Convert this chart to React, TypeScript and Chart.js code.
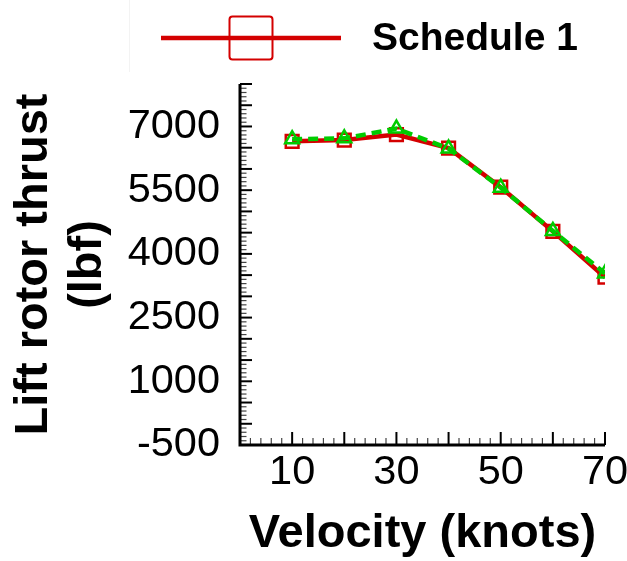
import { useEffect, useRef } from 'react';
import { Chart, registerables } from 'chart.js';

Chart.register(...registerables);

// Flight speed (knots) and lift rotor thrust (lbf) for each schedule
const velocity = [10, 20, 30, 40, 50, 60, 70];
const schedule1Thrust = [6650, 6680, 6810, 6490, 5570, 4530, 3450];
const schedule2Thrust = [6700, 6720, 6950, 6480, 5560, 4540, 3540];

// Values that carry a printed tick label
const xLabelValues = [10, 30, 50, 70];
const yLabelValues = [-500, 1000, 2500, 4000, 5500, 7000];

const RED = '#d40000';
const GREEN = '#00cc00';
const FONT = '"Liberation Sans", Arial, sans-serif';

// Axis lines plus major/minor tick marks pointing into the plot area
const axisFramePlugin = {
  id: 'axisFrame',
  afterDraw(chart: any) {
    const { ctx, chartArea, scales } = chart;
    const { left, right, top, bottom } = chartArea;
    const xs = scales.x;
    const ys = scales.y;
    ctx.save();
    ctx.strokeStyle = '#000';
    ctx.lineCap = 'butt';

    for (let v = xs.min; v <= xs.max + 1e-9; v += 2) {
      const px = xs.getPixelForValue(v);
      const major = Math.abs(v % 10) < 1e-9;
      ctx.lineWidth = major ? 2 : 1.2;
      ctx.strokeStyle = major ? '#000' : '#444';
      ctx.beginPath();
      ctx.moveTo(px, bottom);
      ctx.lineTo(px, bottom - (major ? 13 : 7));
      ctx.stroke();
    }
    for (let v = ys.min; v <= ys.max + 1e-9; v += 100) {
      const py = ys.getPixelForValue(v);
      const major = Math.abs(v % 500) < 1e-9;
      ctx.lineWidth = major ? 2 : 1.2;
      ctx.strokeStyle = major ? '#000' : '#444';
      ctx.beginPath();
      ctx.moveTo(left, py);
      ctx.lineTo(left + (major ? 12 : 6.5), py);
      ctx.stroke();
    }

    ctx.strokeStyle = '#000';
    ctx.lineWidth = 3;
    ctx.beginPath();
    ctx.moveTo(left, top);
    ctx.lineTo(left, bottom + 1.5);
    ctx.moveTo(left - 1.5, bottom);
    ctx.lineTo(right, bottom);
    ctx.stroke();
    ctx.restore();
  },
};

// Legend entry: line sample with its marker, then the series name
const lineLegendPlugin = {
  id: 'lineLegend',
  afterDraw(chart: any) {
    const { ctx } = chart;
    const ds = chart.data.datasets.find((d: any) => d.label === 'Schedule 1');
    if (!ds) return;
    const x0 = 161;
    const len = 180;
    const cy = 38;
    const box = 43;
    ctx.save();
    // thin frame edge at the left of the legend box
    ctx.strokeStyle = '#f3f3f3';
    ctx.lineWidth = 1;
    ctx.beginPath();
    ctx.moveTo(129.5, 0);
    ctx.lineTo(129.5, 72);
    ctx.stroke();

    ctx.strokeStyle = ds.borderColor;
    ctx.lineWidth = ds.borderWidth;
    ctx.beginPath();
    ctx.moveTo(x0, cy);
    ctx.lineTo(x0 + len, cy);
    ctx.stroke();

    ctx.lineWidth = 2;
    ctx.beginPath();
    const cx = x0 + len / 2;
    if ((ctx as any).roundRect) {
      (ctx as any).roundRect(cx - box / 2, cy - box / 2, box, box, 3);
    } else {
      ctx.rect(cx - box / 2, cy - box / 2, box, box);
    }
    ctx.stroke();

    ctx.fillStyle = '#000';
    ctx.font = `bold 39px ${FONT}`;
    ctx.textBaseline = 'alphabetic';
    ctx.textAlign = 'left';
    ctx.fillText(ds.label, x0 + len + 31, cy + 12);
    ctx.restore();
  },
};

export default function App() {
  const canvasRef = useRef<HTMLCanvasElement | null>(null);

  useEffect(() => {
    const canvas = canvasRef.current;
    if (!canvas) return;
    const chart = new Chart(canvas, {
      type: 'line',
      data: {
        datasets: [
          {
            label: 'Schedule 1',
            data: velocity.map((v, i) => ({ x: v, y: schedule1Thrust[i] })),
            borderColor: RED,
            backgroundColor: 'rgba(0,0,0,0)',
            borderWidth: 4.5,
            pointStyle: 'rect',
            pointRadius: 9,
            pointBorderWidth: 2.5,
            pointBorderColor: RED,
            pointBackgroundColor: 'rgba(0,0,0,0)',
            tension: 0,
            order: 2,
          },
          {
            label: 'Schedule 2',
            data: velocity.map((v, i) => ({ x: v, y: schedule2Thrust[i] })),
            borderColor: GREEN,
            backgroundColor: 'rgba(0,0,0,0)',
            borderWidth: 4.5,
            borderDash: [10, 6],
            pointStyle: 'triangle',
            pointRadius: 8,
            pointBorderWidth: 2.5,
            pointBorderColor: GREEN,
            pointBackgroundColor: 'rgba(0,0,0,0)',
            tension: 0,
            order: 1,
          },
        ],
      },
      options: {
        responsive: false,
        animation: false,
        layout: { padding: { top: 84, right: 22, bottom: 0, left: 0 } },
        plugins: {
          legend: { display: false },
          tooltip: { enabled: false },
        },
        scales: {
          x: {
            type: 'linear',
            min: 0,
            max: 70,
            grid: { display: false, drawTicks: false },
            border: { display: false },
            ticks: {
              stepSize: 10,
              autoSkip: false,
              maxRotation: 0,
              padding: 3,
              color: '#000',
              font: { family: FONT, size: 41.5 },
              callback: (v: any) => (xLabelValues.includes(Number(v)) ? String(v) : ''),
            },
            title: {
              display: true,
              text: 'Velocity (knots)',
              color: '#000',
              padding: 0,
              font: { family: FONT, size: 47, weight: 'bold', lineHeight: 1.16 },
            },
            afterFit: (scale: any) => {
              scale.height = 116;
              scale.paddingLeft = 0;
              scale.paddingRight = 0;
            },
          },
          y: {
            type: 'linear',
            min: -500,
            max: 8000,
            grid: { display: false, drawTicks: false },
            border: { display: false },
            ticks: {
              stepSize: 500,
              autoSkip: false,
              padding: 20,
              color: '#000',
              font: { family: FONT, size: 41.5 },
              callback: (v: any) => (yLabelValues.includes(Number(v)) ? String(v) : ''),
            },
            title: {
              display: true,
              text: ['Lift rotor thrust', '(lbf)'],
              color: '#000',
              padding: { top: 6.4, bottom: 0 },
              font: { family: FONT, size: 47, weight: 'bold', lineHeight: 1.16 },
            },
            afterFit: (scale: any) => {
              scale.width = 240;
              scale.paddingTop = 0;
              scale.paddingBottom = 0;
            },
          },
        },
      },
      plugins: [axisFramePlugin, lineLegendPlugin],
    });
    return () => chart.destroy();
  }, []);

  return (
    <div style={{ position: 'fixed', left: 0, top: 0, width: 627, height: 561, background: '#fff' }}>
      <canvas ref={canvasRef} width={627} height={561} />
    </div>
  );
}
